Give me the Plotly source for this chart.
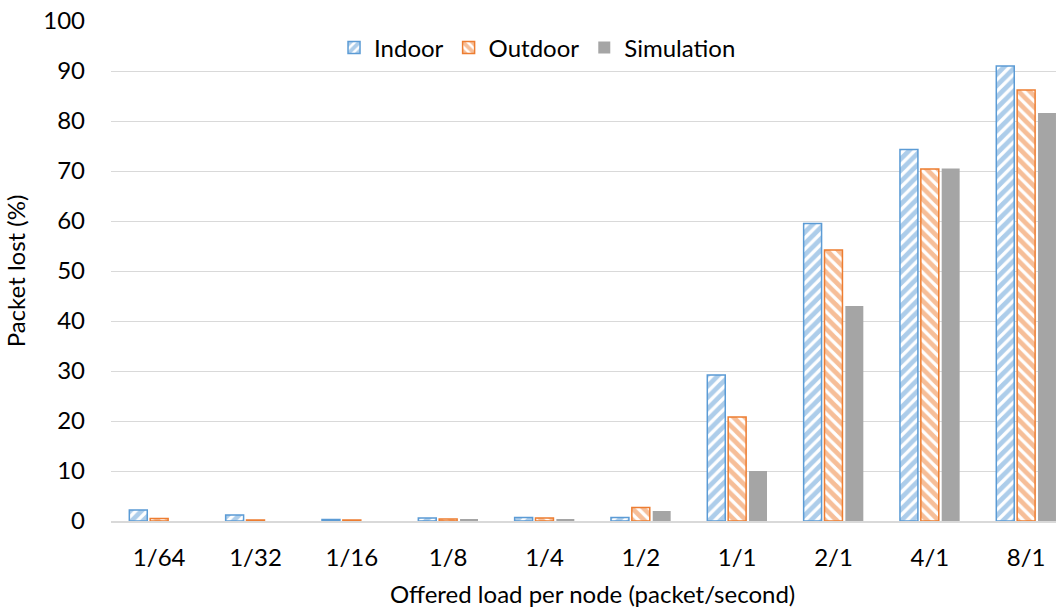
import plotly.graph_objects as go

categories = ["1/64", "1/32", "1/16", "1/8", "1/4", "1/2", "1/1", "2/1", "4/1", "8/1"]
indoor = [2.2, 1.2, 0.3, 0.6, 0.7, 0.7, 29.2, 59.5, 74.3, 91.0]
outdoor = [0.5, 0.2, 0.2, 0.4, 0.6, 2.7, 20.8, 54.2, 70.4, 86.2]
simulation = [0.0, 0.0, 0.0, 0.3, 0.3, 2.0, 10.0, 43.0, 70.5, 81.6]

BLUE = "#5B9BD5"
ORANGE = "#ED7D31"
GRAY = "#A5A5A5"
FONT = "Lato"
FS = 24

fig = go.Figure()
fig.add_trace(go.Bar(
    name="Indoor", x=categories, y=indoor,
    marker=dict(color="white", line=dict(color=BLUE, width=1.5),
                pattern=dict(shape="/", fgcolor=BLUE, bgcolor="white",
                             size=8, solidity=0.6, fillmode="overlay")),
))
fig.add_trace(go.Bar(
    name="Outdoor", x=categories, y=outdoor,
    marker=dict(color="white", line=dict(color=ORANGE, width=1.5),
                pattern=dict(shape="\\", fgcolor=ORANGE, bgcolor="white",
                             size=8, solidity=0.6, fillmode="overlay")),
))
fig.add_trace(go.Bar(
    name="Simulation", x=categories, y=simulation,
    marker=dict(color=GRAY, line=dict(width=0)),
))

fig.update_layout(
    width=1056, height=610,
    margin=dict(l=111, r=0, t=21, b=89),
    paper_bgcolor="white", plot_bgcolor="white",
    font=dict(family=FONT, size=FS, color="#000000"),
    barmode="group", bargap=0.35, bargroupgap=0.14,
    showlegend=True,
    legend=dict(orientation="h", x=0.236, xanchor="left", y=0.946, yanchor="middle",
                font=dict(family=FONT, size=FS), bgcolor="rgba(0,0,0,0)",
                itemwidth=30, traceorder="normal"),
    xaxis=dict(range=[-0.5, 9.31], showgrid=False, showline=True, linecolor="#D9D9D9",
               linewidth=1.5, ticks="", tickfont=dict(size=FS), fixedrange=True,
               ticklabelstandoff=14, automargin=False),
    yaxis=dict(range=[0, 100], dtick=10, showgrid=True, gridcolor="#D9D9D9", gridwidth=1,
               zeroline=False, showline=False, ticks="", ticklabelstandoff=25,
               tickfont=dict(size=FS), automargin=False, fixedrange=True,
               title=dict(text="Packet lost (%)", font=dict(size=FS), standoff=10)),
)
fig.add_annotation(x=4.5, xref="x", y=-0.144, yref="paper",
                   text="Offered load per node (packet/second)", showarrow=False,
                   font=dict(family=FONT, size=FS), yanchor="middle")

fig.write_html("out.html", config={"displayModeBar": False},
               post_script="document.body.style.margin='0';")
